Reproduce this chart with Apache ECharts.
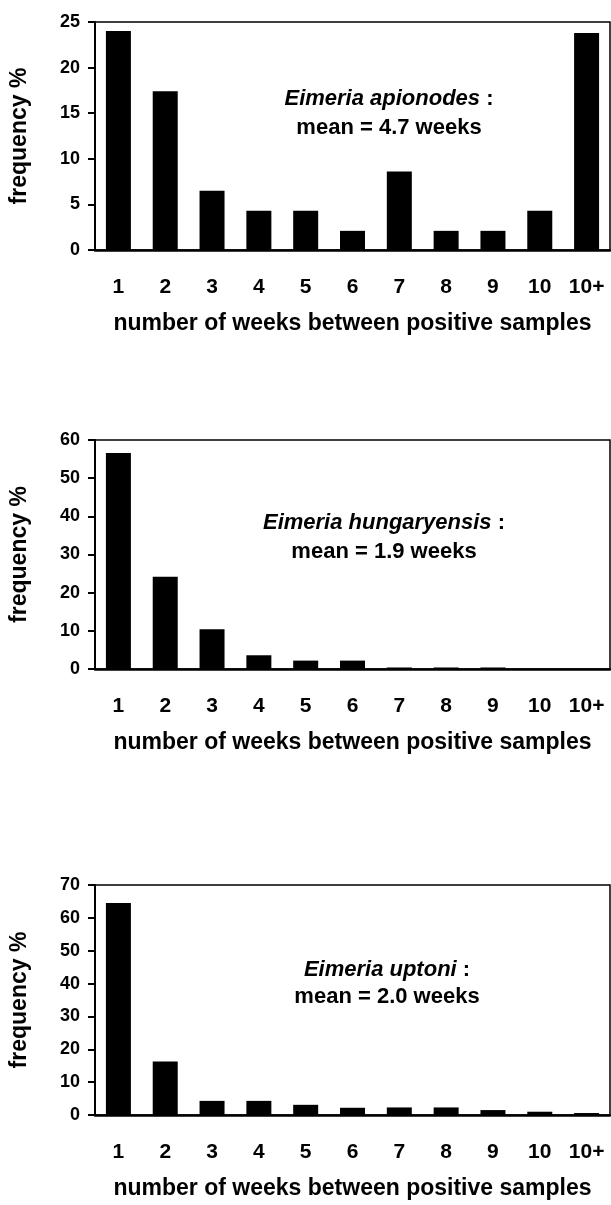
<!DOCTYPE html>
<html>
<head>
<meta charset="utf-8">
<script src="https://cdn.jsdelivr.net/npm/echarts@6/dist/echarts.min.js"></script>
<style>
html,body{margin:0;padding:0;background:#fff;}
#c{width:611px;height:1205px;}
</style>
</head>
<body>
<div id="c"></div>
<script>
const categories = ['1','2','3','4','5','6','7','8','9','10','10+'];
const apionodes = [24.0, 17.4, 6.5, 4.3, 4.3, 2.1, 8.6, 2.1, 2.1, 4.3, 23.8];
const hungaryensis = [56.6, 24.2, 10.4, 3.6, 2.2, 2.2, 0.4, 0.4, 0.4, 0, 0];
const uptoni = [64.5, 16.3, 4.3, 4.3, 3.1, 2.2, 2.3, 2.3, 1.5, 1.0, 0.6];
const yMax = [25, 60, 70];
const yInterval = [5, 10, 10];
const species = ['Eimeria apionodes', 'Eimeria hungaryensis', 'Eimeria uptoni'];
const means = ['mean = 4.7 weeks', 'mean = 1.9 weeks', 'mean = 2.0 weeks'];
const xTitle = 'number of weeks between positive samples';
const yTitle = 'frequency %';

const FONT = '"Liberation Sans", Arial, sans-serif';
const grids = [
  {left: 94, right: 1, top: 22, height: 228},
  {left: 94, right: 1, top: 440, height: 229},
  {left: 94, right: 1, top: 885, height: 230}
];
const annot = [
  {x: 389, y1: 99, y2: 128},
  {x: 384, y1: 523, y2: 552},
  {x: 387, y1: 970, y2: 997}
];
const seriesData = [apionodes, hungaryensis, uptoni];

const option = {
  animation: false,
  backgroundColor: '#fff',
  grid: grids.map(g => Object.assign({show: true, borderColor: '#000', borderWidth: 1.5, backgroundColor: 'transparent'}, g)),
  xAxis: grids.map((g, i) => ({
    type: 'category', gridIndex: i, data: categories,
    name: xTitle, nameLocation: 'middle', nameGap: 62,
    nameTextStyle: {fontFamily: FONT, fontWeight: 'bold', fontSize: 23, color: '#000'},
    axisLine: {lineStyle: {color: '#000', width: 2.5}},
    axisTick: {inside: true, length: 6, lineStyle: {color: '#000', width: 2}},
    axisLabel: {margin: 27, fontFamily: FONT, fontWeight: 'bold', fontSize: 21, color: '#000'}
  })),
  yAxis: grids.map((g, i) => ({
    type: 'value', gridIndex: i, min: 0, max: yMax[i], interval: yInterval[i],
    name: yTitle, nameLocation: 'middle', nameGap: 64, nameRotate: 90,
    nameTextStyle: {fontFamily: FONT, fontWeight: 'bold', fontSize: 23, color: '#000'},
    axisLine: {show: true, lineStyle: {color: '#000', width: 2}},
    axisTick: {show: true, length: 7, lineStyle: {color: '#000', width: 2}},
    splitLine: {show: false},
    axisLabel: {margin: 15, fontFamily: FONT, fontWeight: 'bold', fontSize: 18, color: '#000'}
  })),
  series: seriesData.map((d, i) => ({
    type: 'bar', xAxisIndex: i, yAxisIndex: i, data: d,
    barWidth: 25, itemStyle: {color: '#000'}
  })),
  graphic: annot.flatMap((a, i) => [
    {type: 'text', x: a.x, y: a.y1, style: {
      text: '{i|' + species[i] + '}{n| :}', textAlign: 'center', textVerticalAlign: 'middle',
      rich: {
        i: {fontFamily: FONT, fontWeight: 'bold', fontStyle: 'italic', fontSize: 22, fill: '#000'},
        n: {fontFamily: FONT, fontWeight: 'bold', fontSize: 22, fill: '#000'}
      }
    }},
    {type: 'text', x: a.x, y: a.y2, style: {
      text: means[i], textAlign: 'center', textVerticalAlign: 'middle',
      font: 'bold 22px ' + FONT, fill: '#000'
    }}
  ])
};
const chart = echarts.init(document.getElementById('c'), null, {renderer: 'canvas'});
chart.setOption(option);
</script>
</body>
</html>
